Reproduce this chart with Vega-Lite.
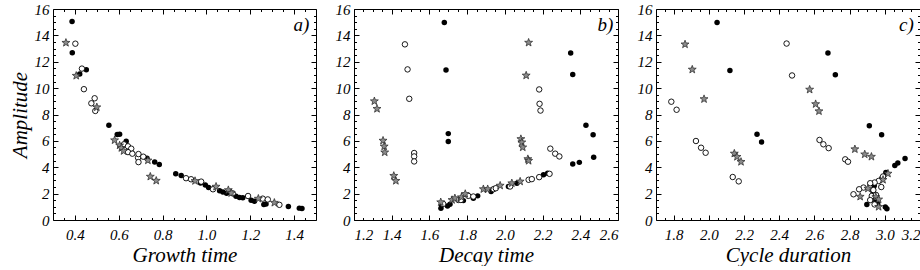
{
 "$schema": "https://vega.github.io/schema/vega-lite/v6.json",
 "padding": {"left": 8, "top": 1, "right": 0, "bottom": 0},
 "autosize": {"type": "pad"},
 "bounds": "flush",
 "spacing": 38,
 "datasets": {
  "pts": [
   {"p":"a","t":"f","x":0.387,"y":15.05},{"p":"a","t":"f","x":0.388,"y":12.68},{"p":"a","t":"f","x":0.422,"y":11.07},{"p":"a","t":"f","x":0.452,"y":11.4},{"p":"a","t":"f","x":0.555,"y":7.19},{"p":"a","t":"f","x":0.593,"y":6.48},{"p":"a","t":"f","x":0.604,"y":6.5},{"p":"a","t":"f","x":0.634,"y":5.97},{"p":"a","t":"f","x":0.729,"y":4.69},{"p":"a","t":"f","x":0.764,"y":4.39},{"p":"a","t":"f","x":0.785,"y":4.21},{"p":"a","t":"f","x":0.86,"y":3.5},{"p":"a","t":"f","x":0.885,"y":3.37},{"p":"a","t":"f","x":0.973,"y":2.81},{"p":"a","t":"f","x":0.995,"y":2.65},{"p":"a","t":"f","x":1.01,"y":2.47},{"p":"a","t":"f","x":1.06,"y":2.22},{"p":"a","t":"f","x":1.075,"y":2.12},{"p":"a","t":"f","x":1.092,"y":2.02},{"p":"a","t":"f","x":1.135,"y":1.8},{"p":"a","t":"f","x":1.151,"y":1.71},{"p":"a","t":"f","x":1.166,"y":1.68},{"p":"a","t":"f","x":1.204,"y":1.5},{"p":"a","t":"f","x":1.219,"y":1.42},{"p":"a","t":"f","x":1.262,"y":1.18},{"p":"a","t":"f","x":1.272,"y":1.22},{"p":"a","t":"f","x":1.374,"y":1.03},{"p":"a","t":"f","x":1.424,"y":0.9},{"p":"a","t":"f","x":1.436,"y":0.87},
   {"p":"a","t":"o","x":0.402,"y":13.37},{"p":"a","t":"o","x":0.432,"y":11.48},{"p":"a","t":"o","x":0.441,"y":9.92},{"p":"a","t":"o","x":0.475,"y":8.85},{"p":"a","t":"o","x":0.49,"y":9.23},{"p":"a","t":"o","x":0.493,"y":8.27},{"p":"a","t":"o","x":0.624,"y":5.74},{"p":"a","t":"o","x":0.642,"y":5.59},{"p":"a","t":"o","x":0.657,"y":5.41},{"p":"a","t":"o","x":0.642,"y":5.15},{"p":"a","t":"o","x":0.662,"y":5.03},{"p":"a","t":"o","x":0.688,"y":4.72},{"p":"a","t":"o","x":0.69,"y":5.0},{"p":"a","t":"o","x":0.712,"y":4.8},{"p":"a","t":"o","x":0.69,"y":4.39},{"p":"a","t":"o","x":0.907,"y":3.17},{"p":"a","t":"o","x":0.93,"y":3.09},{"p":"a","t":"o","x":0.976,"y":2.91},{"p":"a","t":"o","x":1.03,"y":2.33},{"p":"a","t":"o","x":1.12,"y":2.02},{"p":"a","t":"o","x":1.19,"y":1.82},{"p":"a","t":"o","x":1.257,"y":1.62},{"p":"a","t":"o","x":1.28,"y":1.56},{"p":"a","t":"o","x":1.333,"y":1.15},
   {"p":"a","t":"s","x":0.359,"y":13.44},{"p":"a","t":"s","x":0.406,"y":10.94},{"p":"a","t":"s","x":0.5,"y":8.55},{"p":"a","t":"s","x":0.581,"y":6.05},{"p":"a","t":"s","x":0.604,"y":5.66},{"p":"a","t":"s","x":0.612,"y":5.46},{"p":"a","t":"s","x":0.622,"y":5.23},{"p":"a","t":"s","x":0.733,"y":4.52},{"p":"a","t":"s","x":0.744,"y":3.29},{"p":"a","t":"s","x":0.771,"y":2.98},{"p":"a","t":"s","x":0.948,"y":2.96},{"p":"a","t":"s","x":1.044,"y":2.53},{"p":"a","t":"s","x":1.1,"y":2.27},{"p":"a","t":"s","x":1.113,"y":2.04},{"p":"a","t":"s","x":1.237,"y":1.62},{"p":"a","t":"s","x":1.31,"y":1.31},

   {"p":"b","t":"s","x":1.308,"y":9.01},{"p":"b","t":"s","x":1.322,"y":8.43},{"p":"b","t":"s","x":1.354,"y":6.02},{"p":"b","t":"s","x":1.36,"y":5.58},{"p":"b","t":"s","x":1.363,"y":5.13},{"p":"b","t":"s","x":1.411,"y":3.35},{"p":"b","t":"s","x":1.422,"y":2.97},{"p":"b","t":"s","x":2.126,"y":13.45},{"p":"b","t":"s","x":2.113,"y":10.96},{"p":"b","t":"s","x":2.085,"y":6.14},{"p":"b","t":"s","x":2.09,"y":5.89},{"p":"b","t":"s","x":2.095,"y":5.51},{"p":"b","t":"s","x":2.122,"y":4.62},{"p":"b","t":"s","x":2.126,"y":4.49},
   {"p":"b","t":"o","x":1.47,"y":13.32},{"p":"b","t":"o","x":1.484,"y":11.42},{"p":"b","t":"o","x":1.493,"y":9.19},{"p":"b","t":"o","x":1.519,"y":5.08},{"p":"b","t":"o","x":1.519,"y":4.82},{"p":"b","t":"o","x":1.519,"y":4.44},{"p":"b","t":"o","x":2.182,"y":9.9},{"p":"b","t":"o","x":2.184,"y":8.81},{"p":"b","t":"o","x":2.189,"y":8.3},{"p":"b","t":"o","x":2.241,"y":5.41},{"p":"b","t":"o","x":2.267,"y":5.03},{"p":"b","t":"o","x":2.289,"y":4.82},
   {"p":"b","t":"f","x":1.679,"y":14.97},{"p":"b","t":"f","x":1.688,"y":11.37},{"p":"b","t":"f","x":1.7,"y":6.55},{"p":"b","t":"f","x":1.7,"y":5.96},{"p":"b","t":"f","x":2.349,"y":12.66},{"p":"b","t":"f","x":2.36,"y":11.04},{"p":"b","t":"f","x":2.43,"y":7.18},{"p":"b","t":"f","x":2.468,"y":6.47},{"p":"b","t":"f","x":2.471,"y":4.75},{"p":"b","t":"f","x":2.36,"y":4.24},{"p":"b","t":"f","x":2.395,"y":4.37},
   {"p":"b","t":"f","x":1.661,"y":0.89},{"p":"b","t":"f","x":1.665,"y":1.14},{"p":"b","t":"o","x":1.673,"y":1.22},{"p":"b","t":"s","x":1.66,"y":1.35},{"p":"b","t":"f","x":1.696,"y":1.07},{"p":"b","t":"f","x":1.709,"y":1.19},{"p":"b","t":"s","x":1.72,"y":1.52},{"p":"b","t":"s","x":1.735,"y":1.65},{"p":"b","t":"o","x":1.753,"y":1.52},{"p":"b","t":"o","x":1.767,"y":1.52},{"p":"b","t":"s","x":1.77,"y":1.73},{"p":"b","t":"f","x":1.78,"y":1.47},{"p":"b","t":"s","x":1.79,"y":1.98},{"p":"b","t":"o","x":1.806,"y":1.83},{"p":"b","t":"o","x":1.833,"y":1.78},{"p":"b","t":"f","x":1.833,"y":1.65},{"p":"b","t":"f","x":1.856,"y":1.83},{"p":"b","t":"s","x":1.886,"y":2.34},{"p":"b","t":"s","x":1.909,"y":2.34},{"p":"b","t":"f","x":1.927,"y":2.16},{"p":"b","t":"o","x":1.94,"y":2.34},{"p":"b","t":"o","x":1.952,"y":2.41},{"p":"b","t":"s","x":1.975,"y":2.61},{"p":"b","t":"f","x":2.019,"y":2.54},{"p":"b","t":"o","x":2.028,"y":2.54},{"p":"b","t":"s","x":2.037,"y":2.79},{"p":"b","t":"f","x":2.064,"y":2.79},{"p":"b","t":"s","x":2.081,"y":2.92},{"p":"b","t":"o","x":2.126,"y":3.05},{"p":"b","t":"o","x":2.143,"y":3.1},{"p":"b","t":"o","x":2.182,"y":3.25},{"p":"b","t":"f","x":2.205,"y":3.43},{"p":"b","t":"f","x":2.227,"y":3.55},{"p":"b","t":"o","x":2.237,"y":3.5},

   {"p":"c","t":"s","x":1.865,"y":13.32},{"p":"c","t":"s","x":1.906,"y":11.41},{"p":"c","t":"s","x":1.973,"y":9.17},{"p":"c","t":"s","x":2.145,"y":5.04},{"p":"c","t":"s","x":2.16,"y":4.79},{"p":"c","t":"s","x":2.183,"y":4.41},{"p":"c","t":"s","x":2.573,"y":9.89},{"p":"c","t":"s","x":2.607,"y":8.79},{"p":"c","t":"s","x":2.626,"y":8.25},{"p":"c","t":"s","x":2.83,"y":5.37},{"p":"c","t":"s","x":2.886,"y":4.98},{"p":"c","t":"s","x":2.924,"y":4.8},
   {"p":"c","t":"o","x":1.787,"y":8.97},{"p":"c","t":"o","x":1.817,"y":8.36},{"p":"c","t":"o","x":1.927,"y":5.99},{"p":"c","t":"o","x":1.956,"y":5.48},{"p":"c","t":"o","x":1.982,"y":5.1},{"p":"c","t":"o","x":2.136,"y":3.26},{"p":"c","t":"o","x":2.17,"y":2.93},{"p":"c","t":"o","x":2.442,"y":13.38},{"p":"c","t":"o","x":2.473,"y":10.96},{"p":"c","t":"o","x":2.629,"y":6.07},{"p":"c","t":"o","x":2.651,"y":5.74},{"p":"c","t":"o","x":2.681,"y":5.45},{"p":"c","t":"o","x":2.775,"y":4.6},{"p":"c","t":"o","x":2.791,"y":4.42},
   {"p":"c","t":"f","x":2.047,"y":14.98},{"p":"c","t":"f","x":2.12,"y":11.34},{"p":"c","t":"f","x":2.274,"y":6.5},{"p":"c","t":"f","x":2.3,"y":5.91},{"p":"c","t":"f","x":2.677,"y":12.66},{"p":"c","t":"f","x":2.719,"y":11.01},{"p":"c","t":"f","x":2.912,"y":7.14},{"p":"c","t":"f","x":2.982,"y":6.46},{"p":"c","t":"f","x":3.057,"y":4.14},{"p":"c","t":"f","x":3.074,"y":4.32},{"p":"c","t":"f","x":3.115,"y":4.67},
   {"p":"c","t":"f","x":3.006,"y":3.6},{"p":"c","t":"s","x":3.018,"y":3.52},{"p":"c","t":"o","x":2.984,"y":3.14},{"p":"c","t":"o","x":2.965,"y":2.96},{"p":"c","t":"o","x":2.942,"y":2.84},{"p":"c","t":"o","x":2.917,"y":2.79},{"p":"c","t":"o","x":2.879,"y":2.46},{"p":"c","t":"s","x":2.904,"y":2.38},{"p":"c","t":"o","x":2.854,"y":2.33},{"p":"c","t":"o","x":2.822,"y":1.95},{"p":"c","t":"s","x":2.86,"y":1.77},{"p":"c","t":"o","x":2.935,"y":2.27},{"p":"c","t":"f","x":2.932,"y":2.2},{"p":"c","t":"o","x":2.926,"y":1.82},{"p":"c","t":"s","x":2.949,"y":1.74},{"p":"c","t":"o","x":2.917,"y":1.51},{"p":"c","t":"f","x":2.898,"y":1.18},{"p":"c","t":"o","x":2.942,"y":1.18},{"p":"c","t":"s","x":2.965,"y":1.0},{"p":"c","t":"f","x":3.003,"y":0.98},{"p":"c","t":"f","x":3.012,"y":0.85},{"p":"c","t":"s","x":2.965,"y":1.56},{"p":"c","t":"f","x":2.94,"y":2.6},{"p":"c","t":"f","x":2.95,"y":1.35},{"p":"c","t":"o","x":2.99,"y":3.3},{"p":"c","t":"s","x":2.99,"y":3.05},{"p":"c","t":"f","x":2.93,"y":1.6},{"p":"c","t":"o","x":2.95,"y":1.9},{"p":"c","t":"f","x":2.96,"y":1.2},{"p":"c","t":"o","x":2.98,"y":2.5}
  ],
  "lab": [
   {"p":"a","label":"a)","x":1.47,"y":14.8},
   {"p":"b","label":"b)","x":2.575,"y":14.8},
   {"p":"c","label":"c)","x":3.165,"y":14.8}
  ]
 },
 "hconcat": [
  {
   "width": 263, "height": 211,
   "layer": [
    {"data":{"name":"pts"},"transform":[{"filter":"datum.p==='a' && datum.t==='f'"}],
     "mark":{"type":"circle","size":30,"color":"black","opacity":1},
     "encoding":{
      "x":{"field":"x","type":"quantitative","scale":{"domain":[0.3,1.5],"nice":false,"zero":false},
           "axis":{"orient":"bottom","values":[0.4,0.6,0.8,1.0,1.2,1.4],"format":".1f","tickSize":-5,"labelPadding":12,"title":"Growth time","titlePadding":2}},
      "y":{"field":"y","type":"quantitative","scale":{"domain":[0,16],"nice":false,"zero":false},
           "axis":{"orient":"left","values":[0,2,4,6,8,10,12,14,16],"format":"d","tickSize":-5,"labelPadding":9,"title":"Amplitude","titlePadding":4}}}},
    {"data":{"name":"pts"},"transform":[{"filter":"datum.p==='a' && datum.t==='o'"}],
     "mark":{"type":"point","shape":"circle","size":30,"filled":false,"fill":"white","fillOpacity":1,"stroke":"black","strokeWidth":0.9,"opacity":1},
     "encoding":{
      "x":{"field":"x","type":"quantitative","axis":{"orient":"top","values":[0.4,0.6,0.8,1.0,1.2,1.4],"tickSize":-5,"labels":false,"title":null}},
      "y":{"field":"y","type":"quantitative","axis":{"orient":"right","values":[0,2,4,6,8,10,12,14,16],"tickSize":-5,"labels":false,"title":null}}}},
    {"data":{"name":"pts"},"transform":[{"filter":"datum.p==='a' && datum.t==='s'"}],
     "mark":{"type":"point","shape":"M0,-1L0.247,-0.34L0.951,-0.309L0.399,0.13L0.588,0.809L0,0.42L-0.588,0.809L-0.399,0.13L-0.951,-0.309L-0.247,-0.34Z","size":70,"filled":true,"fill":"#8a8a8a","stroke":"#222222","strokeWidth":0.7,"opacity":1},
     "encoding":{
      "x":{"field":"x","type":"quantitative","axis":{"orient":"bottom","values":[0.35,0.45,0.5,0.55,0.65,0.7,0.75,0.85,0.9,0.95,1.05,1.1,1.15,1.25,1.3,1.35,1.45],"tickSize":-2.5,"labels":false,"title":null}},
      "y":{"field":"y","type":"quantitative","axis":{"orient":"left","values":[0.5,1,1.5,2.5,3,3.5,4.5,5,5.5,6.5,7,7.5,8.5,9,9.5,10.5,11,11.5,12.5,13,13.5,14.5,15,15.5],"tickSize":-2.5,"labels":false,"title":null}}}},
    {"data":{"name":"lab"},"transform":[{"filter":"datum.p==='a'"}],
     "mark":{"type":"text","align":"right","baseline":"middle","font":"Liberation Serif","fontStyle":"italic","fontSize":19,"color":"black"},
     "encoding":{
      "text":{"field":"label"},
      "x":{"field":"x","type":"quantitative","axis":{"orient":"top","values":[0.35,0.45,0.5,0.55,0.65,0.7,0.75,0.85,0.9,0.95,1.05,1.1,1.15,1.25,1.3,1.35,1.45],"tickSize":-2.5,"labels":false,"title":null}},
      "y":{"field":"y","type":"quantitative","axis":{"orient":"right","values":[0.5,1,1.5,2.5,3,3.5,4.5,5,5.5,6.5,7,7.5,8.5,9,9.5,10.5,11,11.5,12.5,13,13.5,14.5,15,15.5],"tickSize":-2.5,"labels":false,"title":null}}}}
   ],
   "resolve":{"axis":{"x":"independent","y":"independent"}}
  },
  {
   "width": 264, "height": 211,
   "layer": [
    {"data":{"name":"pts"},"transform":[{"filter":"datum.p==='b' && datum.t==='f'"}],
     "mark":{"type":"circle","size":30,"color":"black","opacity":1},
     "encoding":{
      "x":{"field":"x","type":"quantitative","scale":{"domain":[1.2,2.6],"nice":false,"zero":false},
           "axis":{"orient":"bottom","values":[1.2,1.4,1.6,1.8,2.0,2.2,2.4,2.6],"format":".1f","tickSize":-5,"labelPadding":12,"title":"Decay time","titlePadding":2}},
      "y":{"field":"y","type":"quantitative","scale":{"domain":[0,16],"nice":false,"zero":false},
           "axis":{"orient":"left","values":[0,2,4,6,8,10,12,14,16],"format":"d","tickSize":-5,"labelPadding":9,"title":null}}}},
    {"data":{"name":"pts"},"transform":[{"filter":"datum.p==='b' && datum.t==='o'"}],
     "mark":{"type":"point","shape":"circle","size":30,"filled":false,"fill":"white","fillOpacity":1,"stroke":"black","strokeWidth":0.9,"opacity":1},
     "encoding":{
      "x":{"field":"x","type":"quantitative","axis":{"orient":"top","values":[1.2,1.4,1.6,1.8,2.0,2.2,2.4,2.6],"tickSize":-5,"labels":false,"title":null}},
      "y":{"field":"y","type":"quantitative","axis":{"orient":"right","values":[0,2,4,6,8,10,12,14,16],"tickSize":-5,"labels":false,"title":null}}}},
    {"data":{"name":"pts"},"transform":[{"filter":"datum.p==='b' && datum.t==='s'"}],
     "mark":{"type":"point","shape":"M0,-1L0.247,-0.34L0.951,-0.309L0.399,0.13L0.588,0.809L0,0.42L-0.588,0.809L-0.399,0.13L-0.951,-0.309L-0.247,-0.34Z","size":70,"filled":true,"fill":"#8a8a8a","stroke":"#222222","strokeWidth":0.7,"opacity":1},
     "encoding":{
      "x":{"field":"x","type":"quantitative","axis":{"orient":"bottom","values":[1.25,1.3,1.35,1.45,1.5,1.55,1.65,1.7,1.75,1.85,1.9,1.95,2.05,2.1,2.15,2.25,2.3,2.35,2.45,2.5,2.55],"tickSize":-2.5,"labels":false,"title":null}},
      "y":{"field":"y","type":"quantitative","axis":{"orient":"left","values":[0.5,1,1.5,2.5,3,3.5,4.5,5,5.5,6.5,7,7.5,8.5,9,9.5,10.5,11,11.5,12.5,13,13.5,14.5,15,15.5],"tickSize":-2.5,"labels":false,"title":null}}}},
    {"data":{"name":"lab"},"transform":[{"filter":"datum.p==='b'"}],
     "mark":{"type":"text","align":"right","baseline":"middle","font":"Liberation Serif","fontStyle":"italic","fontSize":19,"color":"black"},
     "encoding":{
      "text":{"field":"label"},
      "x":{"field":"x","type":"quantitative","axis":{"orient":"top","values":[1.25,1.3,1.35,1.45,1.5,1.55,1.65,1.7,1.75,1.85,1.9,1.95,2.05,2.1,2.15,2.25,2.3,2.35,2.45,2.5,2.55],"tickSize":-2.5,"labels":false,"title":null}},
      "y":{"field":"y","type":"quantitative","axis":{"orient":"right","values":[0.5,1,1.5,2.5,3,3.5,4.5,5,5.5,6.5,7,7.5,8.5,9,9.5,10.5,11,11.5,12.5,13,13.5,14.5,15,15.5],"tickSize":-2.5,"labels":false,"title":null}}}}
   ],
   "resolve":{"axis":{"x":"independent","y":"independent"}}
  },
  {
   "width": 264, "height": 211,
   "layer": [
    {"data":{"name":"pts"},"transform":[{"filter":"datum.p==='c' && datum.t==='f'"}],
     "mark":{"type":"circle","size":30,"color":"black","opacity":1},
     "encoding":{
      "x":{"field":"x","type":"quantitative","scale":{"domain":[1.7,3.2],"nice":false,"zero":false},
           "axis":{"orient":"bottom","values":[1.8,2.0,2.2,2.4,2.6,2.8,3.0,3.2],"format":".1f","tickSize":-5,"labelPadding":12,"labelFlush":6,"title":"Cycle duration","titlePadding":2}},
      "y":{"field":"y","type":"quantitative","scale":{"domain":[0,16],"nice":false,"zero":false},
           "axis":{"orient":"left","values":[0,2,4,6,8,10,12,14,16],"format":"d","tickSize":-5,"labelPadding":9,"title":null}}}},
    {"data":{"name":"pts"},"transform":[{"filter":"datum.p==='c' && datum.t==='o'"}],
     "mark":{"type":"point","shape":"circle","size":30,"filled":false,"fill":"white","fillOpacity":1,"stroke":"black","strokeWidth":0.9,"opacity":1},
     "encoding":{
      "x":{"field":"x","type":"quantitative","axis":{"orient":"top","values":[1.8,2.0,2.2,2.4,2.6,2.8,3.0,3.2],"tickSize":-5,"labels":false,"title":null}},
      "y":{"field":"y","type":"quantitative","axis":{"orient":"right","values":[0,2,4,6,8,10,12,14,16],"tickSize":-5,"labels":false,"title":null}}}},
    {"data":{"name":"pts"},"transform":[{"filter":"datum.p==='c' && datum.t==='s'"}],
     "mark":{"type":"point","shape":"M0,-1L0.247,-0.34L0.951,-0.309L0.399,0.13L0.588,0.809L0,0.42L-0.588,0.809L-0.399,0.13L-0.951,-0.309L-0.247,-0.34Z","size":70,"filled":true,"fill":"#8a8a8a","stroke":"#222222","strokeWidth":0.7,"opacity":1},
     "encoding":{
      "x":{"field":"x","type":"quantitative","axis":{"orient":"bottom","values":[1.75,1.85,1.9,1.95,2.05,2.1,2.15,2.25,2.3,2.35,2.45,2.5,2.55,2.65,2.7,2.75,2.85,2.9,2.95,3.05,3.1,3.15],"tickSize":-2.5,"labels":false,"title":null}},
      "y":{"field":"y","type":"quantitative","axis":{"orient":"left","values":[0.5,1,1.5,2.5,3,3.5,4.5,5,5.5,6.5,7,7.5,8.5,9,9.5,10.5,11,11.5,12.5,13,13.5,14.5,15,15.5],"tickSize":-2.5,"labels":false,"title":null}}}},
    {"data":{"name":"lab"},"transform":[{"filter":"datum.p==='c'"}],
     "mark":{"type":"text","align":"right","baseline":"middle","font":"Liberation Serif","fontStyle":"italic","fontSize":19,"color":"black"},
     "encoding":{
      "text":{"field":"label"},
      "x":{"field":"x","type":"quantitative","axis":{"orient":"top","values":[1.75,1.85,1.9,1.95,2.05,2.1,2.15,2.25,2.3,2.35,2.45,2.5,2.55,2.65,2.7,2.75,2.85,2.9,2.95,3.05,3.1,3.15],"tickSize":-2.5,"labels":false,"title":null}},
      "y":{"field":"y","type":"quantitative","axis":{"orient":"right","values":[0.5,1,1.5,2.5,3,3.5,4.5,5,5.5,6.5,7,7.5,8.5,9,9.5,10.5,11,11.5,12.5,13,13.5,14.5,15,15.5],"tickSize":-2.5,"labels":false,"title":null}}}}
   ],
   "resolve":{"axis":{"x":"independent","y":"independent"}}
  }
 ],
 "config": {
  "background": "white",
  "view": {"stroke": "black", "strokeWidth": 1},
  "font": "Liberation Serif",
  "axis": {
   "grid": false, "domain": false,
   "tickColor": "black", "tickWidth": 1,
   "labelFont": "Liberation Serif", "labelFontStyle": "italic", "labelFontSize": 15, "labelColor": "black",
   "titleFont": "Liberation Serif", "titleFontStyle": "italic", "titleFontWeight": "normal", "titleFontSize": 21, "titleColor": "black"
  }
 }
}
